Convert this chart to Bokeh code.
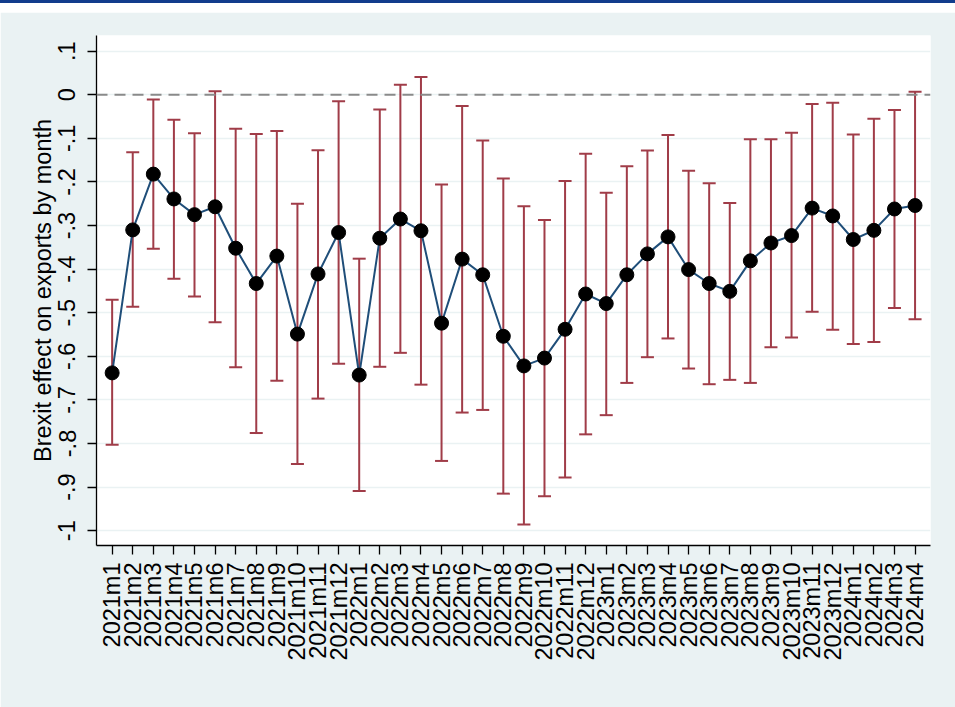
import math
from bokeh.plotting import figure
from bokeh.models import ColumnDataSource, FixedTicker, Whisker, TeeHead, Span, Range1d, Div
from bokeh.layouts import column
from bokeh.embed import file_html
from bokeh.resources import INLINE

months = ["2021m1", "2021m2", "2021m3", "2021m4", "2021m5", "2021m6", "2021m7", "2021m8",
          "2021m9", "2021m10", "2021m11", "2021m12",
          "2022m1", "2022m2", "2022m3", "2022m4", "2022m5", "2022m6", "2022m7", "2022m8",
          "2022m9", "2022m10", "2022m11", "2022m12",
          "2023m1", "2023m2", "2023m3", "2023m4", "2023m5", "2023m6", "2023m7", "2023m8",
          "2023m9", "2023m10", "2023m11", "2023m12",
          "2024m1", "2024m2", "2024m3", "2024m4"]

estimate = [-0.638, -0.310, -0.182, -0.239, -0.275, -0.257, -0.352, -0.433,
            -0.370, -0.549, -0.411, -0.316,
            -0.643, -0.329, -0.285, -0.312, -0.524, -0.377, -0.413, -0.554,
            -0.622, -0.604, -0.538, -0.457,
            -0.479, -0.413, -0.365, -0.326, -0.401, -0.433, -0.451, -0.381,
            -0.340, -0.323, -0.260, -0.278,
            -0.332, -0.311, -0.262, -0.254]

upper = [-0.470, -0.132, -0.011, -0.057, -0.088, 0.008, -0.078, -0.090,
         -0.083, -0.250, -0.127, -0.015,
         -0.376, -0.034, 0.023, 0.041, -0.206, -0.026, -0.105, -0.192,
         -0.256, -0.287, -0.198, -0.135,
         -0.225, -0.164, -0.128, -0.092, -0.174, -0.203, -0.248, -0.102,
         -0.102, -0.087, -0.021, -0.018,
         -0.091, -0.055, -0.035, 0.007]

lower = [-0.803, -0.486, -0.353, -0.422, -0.463, -0.522, -0.625, -0.776,
         -0.656, -0.847, -0.697, -0.617,
         -0.909, -0.624, -0.592, -0.665, -0.840, -0.729, -0.723, -0.915,
         -0.986, -0.921, -0.878, -0.779,
         -0.735, -0.661, -0.602, -0.559, -0.628, -0.664, -0.654, -0.661,
         -0.579, -0.557, -0.498, -0.539,
         -0.572, -0.567, -0.489, -0.515]

y_ticks = [0.1, 0.0, -0.1, -0.2, -0.3, -0.4, -0.5, -0.6, -0.7, -0.8, -0.9, -1.0]
y_tick_labels = [".1", "0", "-.1", "-.2", "-.3", "-.4", "-.5", "-.6", "-.7", "-.8", "-.9", "-1"]

x = list(range(1, len(months) + 1))
src = ColumnDataSource(dict(x=x, est=estimate, upper=upper, lower=lower))

BG = "#EAF2F3"
FONT = "Liberation Sans"
FS = "23.5px"

p = figure(width=955, height=695, output_backend="svg", toolbar_location=None,
           x_range=Range1d(0.24, 40.75), y_range=Range1d(-1.034, 0.136),
           min_border_left=96, min_border_right=25, min_border_top=23, min_border_bottom=162)
p.border_fill_color = BG
p.background_fill_color = "white"
p.outline_line_color = None

# grid
p.xgrid.visible = False
p.ygrid.ticker = FixedTicker(ticks=y_ticks)
p.ygrid.grid_line_color = BG
p.ygrid.grid_line_width = 1.6

# axes
p.yaxis.ticker = FixedTicker(ticks=y_ticks)
p.yaxis.major_label_overrides = {t: l for t, l in zip(y_ticks, y_tick_labels)}
p.yaxis.major_label_orientation = "vertical"
p.yaxis.axis_label = "Brexit effect on exports by month"
p.xaxis.ticker = FixedTicker(ticks=x)
p.xaxis.major_label_overrides = {i: m for i, m in zip(x, months)}
p.xaxis.major_label_orientation = math.pi / 2

for ax in (p.xaxis[0], p.yaxis[0]):
    ax.axis_line_color = "black"
    ax.axis_line_width = 1.3
    ax.major_tick_line_color = "black"
    ax.major_tick_line_width = 1.3
    ax.major_tick_out = 9
    ax.major_tick_in = 0
    ax.minor_tick_line_color = None
    ax.major_label_text_font = FONT
    ax.major_label_text_font_size = FS
    ax.major_label_text_color = "black"
    ax.axis_label_text_font = FONT
    ax.axis_label_text_font_size = FS
    ax.axis_label_text_font_style = "normal"
    ax.axis_label_text_color = "black"

p.xaxis.major_label_standoff = 8
p.yaxis.major_label_standoff = 12
p.yaxis.axis_label_standoff = 0

# zero reference line
p.add_layout(Span(location=0, dimension="width", line_color="#8a8a8a",
                  line_width=2, line_dash="11 7"))

# confidence intervals
ERR = "#A03C48"
whisk = Whisker(base="x", upper="upper", lower="lower", source=src,
                line_color=ERR, line_width=2,
                upper_head=TeeHead(size=13, line_color=ERR, line_width=2),
                lower_head=TeeHead(size=13, line_color=ERR, line_width=2))
p.add_layout(whisk)

# estimate line and markers
p.line("x", "est", source=src, line_color="#1F4E79", line_width=2)
p.scatter("x", "est", source=src, size=14, fill_color="black", line_color="black")

top_rule = Div(text="", width=955, height=3, margin=0,
               styles={"background-color": "#123C8C"})
top_gap = Div(text="", width=955, height=9, margin=0,
              styles={"background-color": "white"})
layout = column(top_rule, top_gap, p, spacing=0, margin=0)

open("out.html", "w").write(file_html(layout, INLINE))
